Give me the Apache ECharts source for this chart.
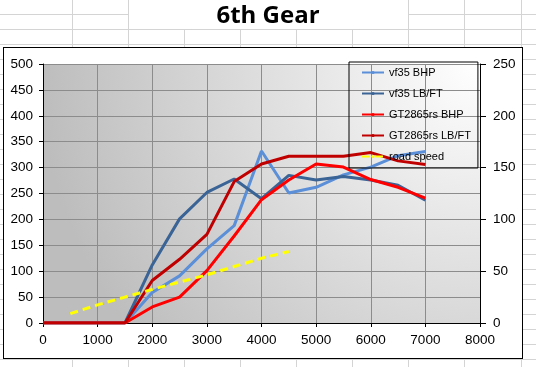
<!DOCTYPE html>
<html><head><meta charset="utf-8">
<script src="https://cdn.jsdelivr.net/npm/echarts@6/dist/echarts.min.js"></script>
<style>
html,body{margin:0;padding:0;width:536px;height:367px;overflow:hidden;background:#fff;}
#sheet{position:absolute;left:0;top:0;width:536px;height:367px;}
#chart{position:absolute;left:0;top:0;width:536px;height:367px;}
.hl,.vl{position:absolute;background:#d4d4d4;}
.hl{height:1px;}
.vl{width:1px;}
#frame{position:absolute;left:3px;top:47px;width:518px;height:310px;border:1px solid #000;background:#fff;}
</style></head><body>
<div id="sheet"></div>
<div id="chart"></div>
<script>
// ---- data ----
const rpm = [0, 1500, 2000, 2500, 3000, 3500, 4000, 4500, 5000, 5500, 6000, 6500, 7000];
const vf35Bhp = [0, 0, 59, 91, 143, 188, 332, 251, 262, 286, 301, 323, 331];
const vf35Lbft = [0, 0, 112, 201, 252, 278, 240, 285, 276, 283, 276, 266, 237];
const gtBhp = [0, 0, 31, 50, 101, 168, 238, 276, 307, 301, 277, 262, 241];
const gtLbft = [0, 0, 82, 123, 171, 273, 307, 322, 322, 322, 329, 313, 306];
const speedRpm = [500, 1000, 1500, 2000, 2500, 3000, 3500, 4000, 4500];
const roadSpeed = [18, 35, 50, 65, 79, 93, 109, 125, 138];
const seriesNames = ['vf35 BHP', 'vf35 LB/FT', 'GT2865rs BHP', 'GT2865rs LB/FT', 'road speed'];
const xTicks = [0, 1000, 2000, 3000, 4000, 5000, 6000, 7000, 8000];
const leftTicks = [0, 50, 100, 150, 200, 250, 300, 350, 400, 450, 500];
const rightTicks = [0, 50, 100, 150, 200, 250];

// ---- spreadsheet backdrop (decoration) ----
const sheet = document.getElementById('sheet');
function add(cls, css){const d=document.createElement('div');d.className=cls;Object.assign(d.style,css);sheet.appendChild(d);}
const colX = [72, 128, 184, 240, 296, 352, 408, 464, 521];
for (let k = 0; k < 24; k++) {
  const y = Math.round(14 + 15 * k);
  if (k === 0) { add('hl',{left:'0px',top:y+'px',width:'128px'}); add('hl',{left:'408px',top:y+'px',width:'128px'}); }
  else add('hl',{left:'0px',top:y+'px',width:'536px'});
}
colX.forEach(x => {
  const merged = x > 128 && x < 408;
  add('vl',{left:x+'px',top:(merged?29:0)+'px',height:(merged?338:367)+'px'});
});
const frame=document.createElement('div');frame.id='frame';sheet.appendChild(frame);

// ---- chart ----
const chart = echarts.init(document.getElementById('chart'), null, {renderer:'canvas'});
const pair = (xs, ys) => xs.map((x, i) => [x, ys[i]]);
const font = 'Liberation Sans, Arial, sans-serif';
const colors = ['#5b8fd8', '#3a6396', '#ff0000', '#c00000', '#ffff00'];
function lineSeries(name, xs, ys, color, extra) {
  return Object.assign({
    name, type: 'line', data: pair(xs, ys), showSymbol: false, symbol: 'none',
    lineStyle: {color, width: 3}, itemStyle: {color}, animation: false
  }, extra || {});
}
const plain = v => String(v);
const axisBase = {
  axisLine: {show: true, onZero: false, lineStyle: {color: '#000', width: 1}},
  axisTick: {show: true, length: 4, lineStyle: {color: '#000'}},
  axisLabel: {color: '#000', fontSize: 13.5, fontFamily: font, formatter: plain}
};
chart.setOption({
  backgroundColor: 'transparent',
  animation: false,
  title: {text: '6th Gear', left: 'center', top: -1,
    textStyle: {fontFamily: 'Open Sans', fontWeight: 'bold', fontSize: 24, color: '#000'}},
  grid: {left: 43, right: 56, top: 64, bottom: 44, show: true, borderWidth: 0,
    backgroundColor: new echarts.graphic.RadialGradient(1, 0, 1.7, [
      {offset: 0, color: '#ffffff'}, {offset: 1, color: '#bdbdbd'}])},
  legend: {
    orient: 'vertical', left: 349, top: 62, padding: [5, 7, 6, 12],
    itemWidth: 22, itemHeight: 4, itemGap: 10,
    borderColor: '#000', borderWidth: 1,
    data: seriesNames,
    textStyle: {fontSize: 11, fontFamily: font, color: '#000'}
  },
  xAxis: Object.assign({}, axisBase, {
    type: 'value', min: xTicks[0], max: xTicks[xTicks.length - 1], interval: xTicks[1] - xTicks[0],
    splitLine: {show: true, lineStyle: {color: '#8c8c8c', width: 1}},
    axisLabel: Object.assign({}, axisBase.axisLabel, {margin: 10})
  }),
  yAxis: [
    Object.assign({}, axisBase, {
      type: 'value', position: 'left', min: leftTicks[0], max: leftTicks[leftTicks.length - 1],
      interval: leftTicks[1] - leftTicks[0],
      splitLine: {show: true, lineStyle: {color: '#8c8c8c', width: 1}},
      axisLabel: Object.assign({}, axisBase.axisLabel, {margin: 10})
    }),
    Object.assign({}, axisBase, {
      type: 'value', position: 'right', min: rightTicks[0], max: rightTicks[rightTicks.length - 1],
      interval: rightTicks[1] - rightTicks[0],
      splitLine: {show: false},
      axisTick: {show: true, length: 6, lineStyle: {color: '#000'}},
      axisLabel: Object.assign({}, axisBase.axisLabel, {margin: 13})
    })
  ],
  series: [
    lineSeries(seriesNames[0], rpm, vf35Bhp, colors[0]),
    lineSeries(seriesNames[1], rpm, vf35Lbft, colors[1]),
    lineSeries(seriesNames[2], rpm, gtBhp, colors[2]),
    lineSeries(seriesNames[3], rpm, gtLbft, colors[3]),
    lineSeries(seriesNames[4], speedRpm, roadSpeed, colors[4], {
      lineStyle: {color: colors[4], width: 3, type: [8, 5]}})
  ]
});
</script>
</body></html>
